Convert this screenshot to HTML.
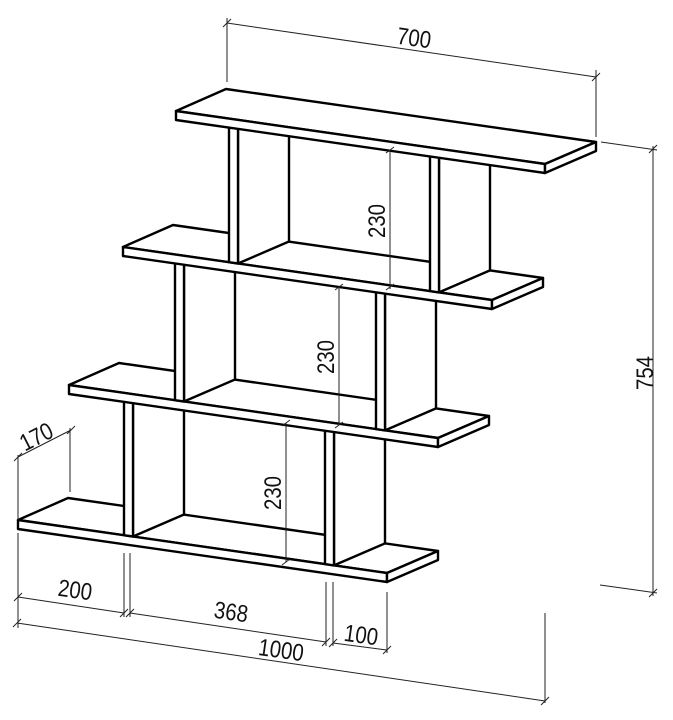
<!DOCTYPE html>
<html><head><meta charset="utf-8"><style>
html,body{margin:0;padding:0;background:#fff;}
svg{display:block;}
text{font-family:"Liberation Sans",sans-serif;font-size:24px;fill:#111;}
</style></head><body>
<svg width="673" height="720" viewBox="0 0 673 720" xmlns="http://www.w3.org/2000/svg">
<defs>
<g id="shelf">
  <polygon points="176,111 545,164 596,142 226,89" fill="#fff" stroke="#000" stroke-width="2.4" stroke-linejoin="round"/>
  <polygon points="176,111 545,164 545,173 176,120" fill="#fff" stroke="#000" stroke-width="2.4" stroke-linejoin="round"/>
  <polygon points="545,164 596,142 596,151 545,173" fill="#fff" stroke="#000" stroke-width="2.4" stroke-linejoin="round"/>
</g>
<g id="unit">
  <polygon points="238,112 238,263.5 289,241.5 289,104" fill="#fff" stroke="#000" stroke-width="2.4" stroke-linejoin="round"/>
  <polygon points="229,112 238,112 238,263.5 229,262.2" fill="#fff" stroke="#000" stroke-width="2.4" stroke-linejoin="round"/>
  <polygon points="439,140 439,292.4 490,270.4 490,132" fill="#fff" stroke="#000" stroke-width="2.4" stroke-linejoin="round"/>
  <polygon points="430,140 439,140 439,292.4 430,291.1" fill="#fff" stroke="#000" stroke-width="2.4" stroke-linejoin="round"/>
</g>
</defs>

<use href="#shelf" transform="translate(-158,409)"/>
<use href="#unit" transform="translate(-105,273)"/>
<use href="#shelf" transform="translate(-107,274)"/>
<use href="#unit" transform="translate(-54,138)"/>
<use href="#shelf" transform="translate(-53,136)"/>
<use href="#unit" transform="translate(0,0)"/>
<use href="#shelf"/>

<g stroke="#222" stroke-width="1" fill="none">
  <line x1="227" y1="18" x2="227" y2="82"/>
  <line x1="596" y1="70" x2="596" y2="137"/>
  <line x1="227" y1="23" x2="596" y2="77"/>
  <line x1="223" y1="27" x2="231" y2="19"/><line x1="592" y1="81" x2="600" y2="73"/>
  <line x1="601" y1="142" x2="657" y2="150"/>
  <line x1="600" y1="585" x2="657" y2="593"/>
  <line x1="653" y1="146" x2="653" y2="596"/>
  <line x1="649" y1="153" x2="657" y2="145"/><line x1="649" y1="597" x2="657" y2="589"/>
  <line x1="390" y1="150" x2="390" y2="289"/>
  <line x1="386" y1="153" x2="394" y2="147"/><line x1="386" y1="290" x2="394" y2="284"/>
  <line x1="339" y1="287" x2="339" y2="425"/>
  <line x1="335" y1="290" x2="343" y2="284"/><line x1="335" y1="428" x2="343" y2="422"/>
  <line x1="286" y1="423" x2="286" y2="562"/>
  <line x1="282" y1="426" x2="290" y2="420"/><line x1="282" y1="565" x2="290" y2="559"/>
  <line x1="18" y1="455" x2="18" y2="520"/>
  <line x1="70" y1="428" x2="70" y2="492"/>
  <line x1="18" y1="457" x2="71" y2="430"/>
  <line x1="14" y1="461" x2="22" y2="453"/><line x1="67" y1="434" x2="75" y2="426"/>
  <line x1="18" y1="533" x2="18" y2="628"/>
  <line x1="124" y1="553" x2="124" y2="617"/>
  <line x1="130" y1="553" x2="130" y2="617"/>
  <line x1="326" y1="582" x2="326" y2="646"/>
  <line x1="333" y1="582" x2="333" y2="646"/>
  <line x1="387" y1="592" x2="387" y2="653"/>
  <line x1="545" y1="613" x2="545" y2="703"/>
  <line x1="18" y1="597" x2="124" y2="613"/>
  <line x1="130" y1="613" x2="326" y2="642"/>
  <line x1="333" y1="643" x2="387" y2="650"/>
  <line x1="17" y1="623" x2="545" y2="701"/>
  <line x1="14" y1="601" x2="22" y2="593"/><line x1="120" y1="617" x2="128" y2="609"/>
  <line x1="126" y1="617" x2="134" y2="609"/><line x1="322" y1="646" x2="330" y2="638"/>
  <line x1="329" y1="647" x2="337" y2="639"/><line x1="383" y1="654" x2="391" y2="646"/>
  <line x1="13" y1="627" x2="21" y2="619"/><line x1="541" y1="705" x2="549" y2="697"/>
</g>

<text transform="translate(413,46) rotate(8) scale(0.85,1)" text-anchor="middle">700</text>
<text transform="translate(653,373) rotate(-90) scale(0.85,1)" text-anchor="middle">754</text>
<text transform="translate(385,221) rotate(-90) scale(0.85,1)" text-anchor="middle">230</text>
<text transform="translate(334,357) rotate(-90) scale(0.85,1)" text-anchor="middle">230</text>
<text transform="translate(281,493) rotate(-90) scale(0.85,1)" text-anchor="middle">230</text>
<text transform="translate(40,444) rotate(-27) scale(0.85,1)" text-anchor="middle">170</text>
<text transform="translate(74,598) rotate(8) scale(0.85,1)" text-anchor="middle">200</text>
<text transform="translate(230,620) rotate(8) scale(0.85,1)" text-anchor="middle">368</text>
<text transform="translate(360,643) rotate(8) scale(0.85,1)" text-anchor="middle">100</text>
<text transform="translate(280,658) rotate(8) scale(0.85,1)" text-anchor="middle">1000</text>
</svg>
</body></html>
